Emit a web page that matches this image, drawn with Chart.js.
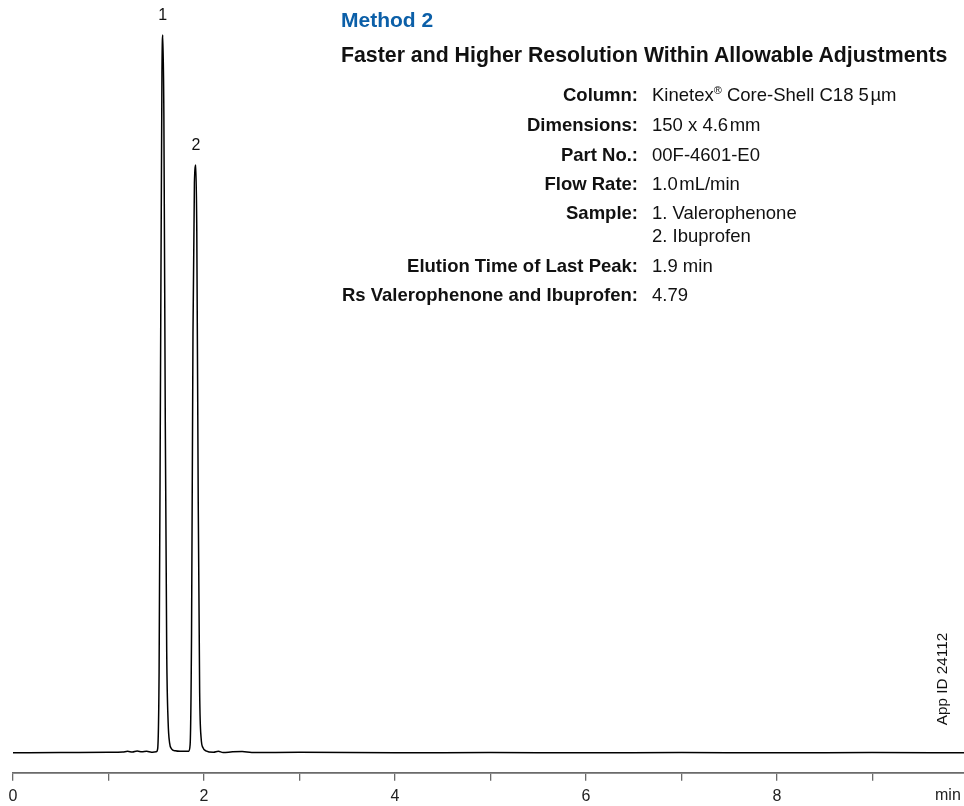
<!DOCTYPE html>
<html>
<head>
<meta charset="utf-8">
<script src="https://cdn.jsdelivr.net/npm/chart.js@4.4.1/dist/chart.umd.min.js"></script>
<style>
    html, body { margin: 0; padding: 0; background: #fff; }
    #wrap { position: relative; width: 964px; height: 806px; overflow: hidden; font-family: "Liberation Sans", Arial, sans-serif; color: #111; }
    #chromChart { position: absolute; left: 0; top: 0; }
    .t { position: absolute; white-space: nowrap; line-height: 22px; }
    .lbl { font-weight: bold; font-size: 18.5px; text-align: right; width: 340px; left: 298px; }
    .val { font-size: 18.5px; left: 652px; }
    sup { font-size: 11px; line-height: 0; vertical-align: 7px; }
</style>
</head>
<body>
<div id="wrap">
    <canvas id="chromChart" width="964" height="806"></canvas>

    <div class="t" style="left:341px; top:9px; font-weight:bold; font-size:21px; color:#0b5fa8;">Method 2</div>
    <div class="t" style="left:341px; top:44px; font-weight:bold; font-size:21.3px;">Faster and Higher Resolution Within Allowable Adjustments</div>

    <div class="t lbl" style="top:84px;">Column:</div>
    <div class="t val" style="top:84px;">Kinetex<sup>®</sup> Core-Shell C18 5&#8202;µm</div>
    <div class="t lbl" style="top:114px;">Dimensions:</div>
    <div class="t val" style="top:114px;">150 x 4.6&#8202;mm</div>
    <div class="t lbl" style="top:144px;">Part No.:</div>
    <div class="t val" style="top:144px;">00F-4601-E0</div>
    <div class="t lbl" style="top:173px;">Flow Rate:</div>
    <div class="t val" style="top:173px;">1.0&#8202;mL/min</div>
    <div class="t lbl" style="top:202px;">Sample:</div>
    <div class="t val" style="top:202px;">1. Valerophenone</div>
    <div class="t val" style="top:225px;">2. Ibuprofen</div>
    <div class="t lbl" style="top:255px;">Elution Time of Last Peak:</div>
    <div class="t val" style="top:255px;">1.9 min</div>
    <div class="t lbl" style="top:284px;">Rs Valerophenone and Ibuprofen:</div>
    <div class="t val" style="top:284px;">4.79</div>

    <div class="t" style="left:882px; top:668px; width:120px; text-align:center; font-size:15.3px; transform:rotate(-90deg);">App ID 24112</div>
    <div class="t" style="left:935px; top:784px; font-size:16px; color:#222;">min</div>
</div>

<script>
// retention time (min) and detector signal (arbitrary units, baseline = 0)
var times = [0, 0.5, 1.0, 1.15, 1.2, 1.25, 1.3, 1.35, 1.4, 1.45, 1.5,
    1.515, 1.53, 1.545, 1.56, 1.569, 1.58, 1.595, 1.61, 1.625, 1.64, 1.66, 1.7, 1.75, 1.8,
    1.84, 1.855, 1.87, 1.885, 1.9, 1.915, 1.925, 1.94, 1.955, 1.97, 1.99, 2.02,
    2.1, 2.15, 2.2, 2.3, 2.4, 2.5, 3, 4, 5, 6, 7, 8, 9, 9.96];
var signal = [0, 0.3, 0.5, 0.8, 1.5, 0.8, 1.8, 1.0, 1.5, 0.6, 1.0,
    4, 80, 380, 680, 718, 640, 330, 100, 30, 10, 4, 2, 1.5, 1.5,
    1.5, 8, 120, 420, 570, 588, 520, 250, 60, 15, 5, 2,
    0.5, 1.5, 0.3, 1, 1.2, 0.3, 0.5, 0, 0.3, 0, 0.2, 0, 0.3, 0];

var peakTimes = [1.569, 1.915];
var peakHeights = [718, 588];
var peakLabels = ['1', '2'];

var xTickLabels = { 0: '0', 2: '2', 4: '4', 6: '6', 8: '8' };

document.addEventListener("DOMContentLoaded", function() {
    var ctx = document.getElementById('chromChart').getContext('2d');

    var points = times.map(function(t, i) {
        return { x: t, y: signal[i] };
    });

    // writes the peak numbers above each peak apex
    var peakLabelPlugin = {
        id: 'peakLabels',
        afterDatasetsDraw: function(chart) {
            var c = chart.ctx;
            var xs = chart.scales.x, ys = chart.scales.y;
            c.save();
            c.font = '16px "Liberation Sans", Arial, sans-serif';
            c.fillStyle = '#111';
            c.textAlign = 'center';
            c.textBaseline = 'middle';
            for (var i = 0; i < peakTimes.length; i++) {
                c.fillText(peakLabels[i], xs.getPixelForValue(peakTimes[i]), ys.getPixelForValue(peakHeights[i]) - 19);
            }
            c.restore();
        }
    };

    new Chart(ctx, {
        type: 'line',
        data: {
            datasets: [{
                data: points,
                borderColor: '#000',
                borderWidth: 1.5,
                pointRadius: 0,
                fill: false,
                cubicInterpolationMode: 'monotone'
            }]
        },
        options: {
            responsive: false,
            animation: false,
            layout: { padding: { left: 13, right: 0, top: 13, bottom: -6 } },
            plugins: { legend: { display: false }, tooltip: { enabled: false } },
            scales: {
                x: {
                    type: 'linear',
                    min: 0,
                    max: 9.96,
                    grid: { drawOnChartArea: false, drawTicks: true, tickLength: 8, tickColor: '#6a6a6a', lineWidth: 1.3 },
                    border: { display: true, color: '#6a6a6a', width: 1.8 },
                    ticks: {
                        stepSize: 1,
                        includeBounds: false,
                        autoSkip: false,
                        maxRotation: 0,
                        padding: 6,
                        color: '#222',
                        font: { family: '"Liberation Sans", Arial, sans-serif', size: 16 },
                        callback: function(value) {
                            return xTickLabels[value] || '';
                        }
                    }
                },
                y: {
                    display: false,
                    min: -20,
                    max: 740
                }
            }
        },
        plugins: [peakLabelPlugin]
    });
});
</script>
</body>
</html>
